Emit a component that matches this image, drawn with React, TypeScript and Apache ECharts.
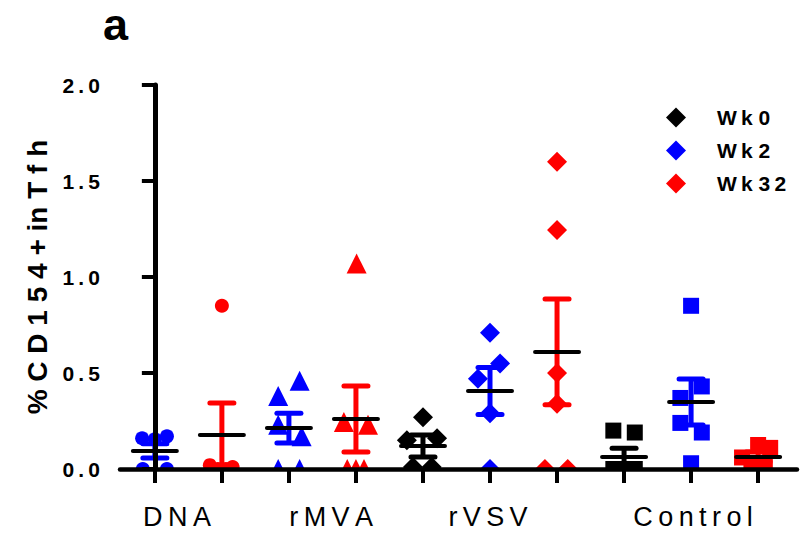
import React, { useEffect, useRef } from 'react';
import * as echarts from 'echarts';

// ---- data ----
const groupLabels = ['D\u2009N\u2009A', 'r\u2009M\u2009V\u2009A', 'r\u2009V\u2009S\u2009V', 'C\u2009o\u2009n\u2009t\u2009r\u2009o\u2009l'];
const groupLabelPos = [0.33, 2.63, 4.97, 8.03];
const weeks = ['Wk 0', 'Wk 2', 'Wk 32'];
const weekLabels = ['W\u2009k 0', 'W\u2009k 2', 'W\u2009k 3\u20092'];
const weekColors = ['#000000', '#0000FF', '#FF0000'];

// column index -> week index
const columnWeek = [1, 2, 1, 2, 0, 1, 2, 0, 1, 2];
const columnSymbol = ['circle', 'circle', 'triangle', 'triangle', 'diamond', 'diamond', 'diamond', 'rect', 'rect', 'rect'];

const dnaWk2 = [0.16, 0.155, 0.17, 0.0, 0.0];
const dnaWk32 = [0.85, 0.02, 0.0, 0.01, 0.0];
const rmvaWk2 = [0.46, 0.38, 0.23, 0.17, 0.0, 0.0];
const rmvaWk32 = [1.07, 0.245, 0.23, 0.0, 0.0, 0.0];
const rvsvWk0 = [0.27, 0.15, 0.16, 0.01, 0.01];
const rvsvWk2 = [0.71, 0.55, 0.47, 0.29, 0.0];
const rvsvWk32 = [1.6, 1.245, 0.5, 0.34, 0.0, 0.0];
const controlWk0 = [0.2, 0.19, 0.0, 0.0, 0.0, 0.0];
const controlWk2 = [0.85, 0.43, 0.37, 0.24, 0.19, 0.03];
const controlWk32 = [0.125, 0.11, 0.06, 0.02, 0.02];

const columnValues = [dnaWk2, dnaWk32, rmvaWk2, rmvaWk32, rvsvWk0, rvsvWk2, rvsvWk32, controlWk0, controlWk2, controlWk32];

// mean and SEM as drawn
const columnMean = [0.094, 0.177, 0.213, 0.26, 0.12, 0.406, 0.61, 0.063, 0.349, 0.063];
const columnSem = [0.037, 0.167, 0.078, 0.172, 0.057, 0.122, 0.275, 0.045, 0.12, 0.025];

// ---- layout (horizontal scatter spread, in column units) ----
const columnJitter = [
  [-0.19, 0.0, 0.18, -0.18, 0.18],
  [0.0, -0.18, -0.06, 0.16, 0.06],
  [0.16, -0.16, -0.16, 0.19, -0.16, 0.16],
  [0.01, -0.18, 0.18, -0.13, 0.0, 0.12],
  [0.0, -0.24, 0.21, -0.15, 0.13],
  [0.0, 0.15, -0.18, 0.0, 0.0],
  [0.0, 0.0, 0.0, 0.0, -0.18, 0.16],
  [-0.16, 0.16, -0.16, 0.16, 0.0, 0.0],
  [0.0, 0.16, -0.16, -0.16, 0.16, 0.0],
  [0.0, 0.18, -0.24, -0.1, 0.1],
];
const symbolSizes: Record<string, number> = { circle: 14, triangle: 20, diamond: 20, rect: 16 };
const FONT = 'Liberation Sans, Arial, Helvetica, sans-serif';

export default function App() {
  const ref = useRef<HTMLDivElement>(null);
  useEffect(() => {
    if (!ref.current) return;
    const chart = echarts.init(ref.current, null, { renderer: 'svg' });

    const scatterSeries = weeks.map((wk, w) => {
      const data: any[] = [];
      columnValues.forEach((vals, c) => {
        if (columnWeek[c] !== w) return;
        vals.forEach((v, i) => {
          data.push({
            value: [c + columnJitter[c][i], v],
            symbol: columnSymbol[c],
            symbolSize: symbolSizes[columnSymbol[c]],
          });
        });
      });
      return {
        type: 'scatter',
        name: wk,
        z: 2,
        itemStyle: { color: weekColors[w], opacity: 1 },
        data,
      };
    });

    const errData = columnMean.map((m, c) => [c, m, columnSem[c], columnWeek[c]]);

    const option: any = {
      animation: false,
      backgroundColor: '#ffffff',
      grid: { left: 120, right: 6, top: 85, bottom: 66, containLabel: false },
      legend: {
        orient: 'vertical',
        left: 661,
        top: 102,
        itemWidth: 20,
        itemHeight: 20,
        itemGap: 12,
        icon: 'diamond',
        data: weeks,
        formatter: (name: string) => weekLabels[weeks.indexOf(name)],
        textStyle: { fontFamily: FONT, fontSize: 21, fontWeight: 'bold', color: '#000', padding: [0, 0, 0, 26] },
      },
      xAxis: {
        type: 'value',
        min: -0.52,
        max: 9.58,
        z: 20,
        splitLine: { show: false },
        axisLine: { show: true, onZero: false, lineStyle: { color: '#000', width: 4.5 } },
        axisTick: {
          show: true,
          customValues: columnWeek.map((_, i) => i),
          length: 14,
          lineStyle: { color: '#000', width: 4 },
        },
        axisLabel: {
          show: true,
          customValues: groupLabelPos,
          margin: 34,
          fontFamily: FONT,
          fontSize: 27,
          color: '#000',
          formatter: (v: number) => {
            const i = groupLabelPos.findIndex((p) => Math.abs(p - v) < 1e-6);
            return i >= 0 ? groupLabels[i] : '';
          },
        },
      },
      yAxis: {
        type: 'value',
        min: 0,
        max: 2,
        interval: 0.5,
        z: 20,
        name: '% C D 1 5 4 + in T f h',
        nameLocation: 'middle',
        nameRotate: 90,
        nameGap: 64,
        nameTextStyle: { fontFamily: FONT, fontSize: 28, fontWeight: 'bold', color: '#000' },
        splitLine: { show: false },
        axisLine: { show: true, lineStyle: { color: '#000', width: 5 } },
        axisTick: { show: true, length: 13, lineStyle: { color: '#000', width: 4 } },
        axisLabel: {
          margin: 20,
          fontFamily: FONT,
          fontSize: 21,
          fontWeight: 'bold',
          color: '#000',
          formatter: (v: number) => v.toFixed(1).split('').join('\u2009'),
        },
      },
      graphic: {
        elements: [
          {
            type: 'rect',
            z: 10,
            silent: true,
            shape: { x: 123, y: 471, width: 680, height: 64 },
            style: { fill: '#ffffff' },
          },
          {
            type: 'text',
            left: 103,
            top: 2,
            z: 30,
            style: { text: 'a', fontFamily: FONT, fontSize: 45, fontWeight: 'bold', fill: '#000' },
          },
        ],
      },
      series: [
        ...scatterSeries,
        {
          type: 'custom',
          name: 'err',
          z: 15,
          clip: false,
          data: errData,
          renderItem: (params: any, api: any) => {
            const x = api.value(0);
            const m = api.value(1);
            const s = api.value(2);
            const c = weekColors[api.value(3)];
            const top = api.coord([x, m + s]);
            const bot = api.coord([x, m - s]);
            const mid = api.coord([x, m]);
            const capHalf = 12;
            const meanHalf = 22;
            return {
              type: 'group',
              children: [
                { type: 'line', shape: { x1: top[0], y1: top[1], x2: bot[0], y2: bot[1] }, style: { stroke: c, lineWidth: 5 } },
                { type: 'line', shape: { x1: top[0] - capHalf, y1: top[1], x2: top[0] + capHalf, y2: top[1] }, style: { stroke: c, lineWidth: 5, lineCap: 'round' } },
                { type: 'line', shape: { x1: bot[0] - capHalf, y1: bot[1], x2: bot[0] + capHalf, y2: bot[1] }, style: { stroke: c, lineWidth: 5, lineCap: 'round' } },
                { type: 'line', shape: { x1: mid[0] - meanHalf, y1: mid[1], x2: mid[0] + meanHalf, y2: mid[1] }, style: { stroke: '#000', lineWidth: 4, lineCap: 'round' } },
              ],
            };
          },
        },
      ],
    };
    chart.setOption(option);
    return () => chart.dispose();
  }, []);
  return <div ref={ref} style={{ width: 803, height: 535, position: 'absolute', left: 0, top: 0 }} />;
}
